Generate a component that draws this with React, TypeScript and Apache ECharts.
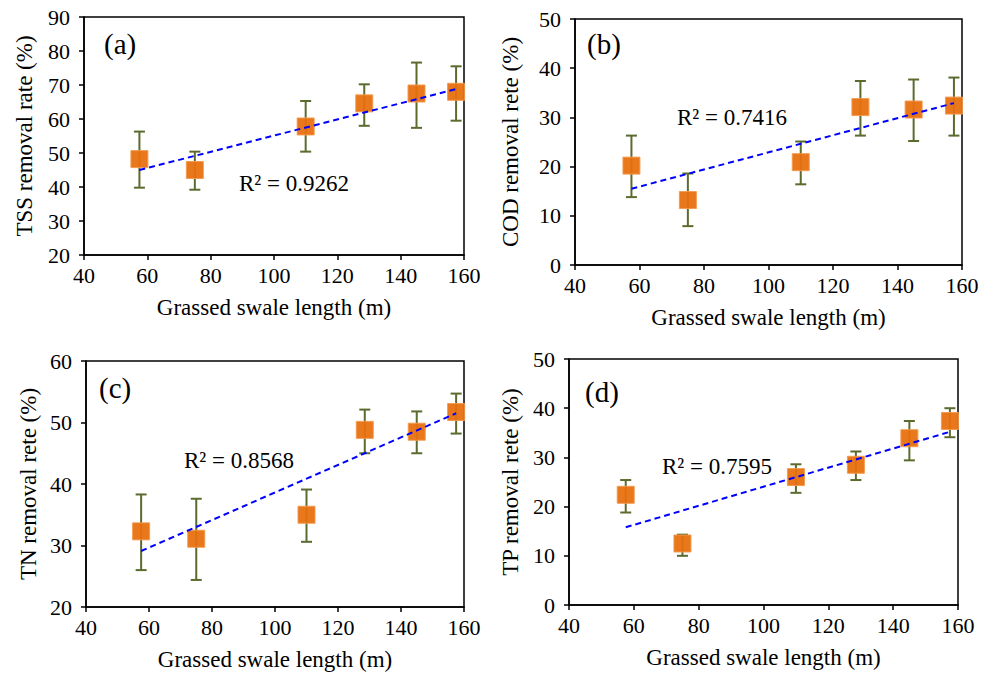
import React, { useEffect, useRef } from "react";
import * as echarts from "echarts";

// swale lengths (m)
const lengths = [57.5, 75, 110, 128.5, 145, 157.5];
const xTicks = [40, 60, 80, 100, 120, 140, 160];

// (a) TSS
const tss = [48.2, 45.0, 57.8, 64.6, 67.5, 68.0];
const tssLow = [39.8, 39.2, 50.4, 58.0, 57.4, 59.5];
const tssHigh = [56.3, 50.4, 65.3, 70.2, 76.6, 75.5];
const tssTrend = [45.0, 68.8];
// (b) COD
const cod = [20.2, 13.2, 20.9, 32.1, 31.6, 32.4];
const codLow = [13.8, 7.9, 16.4, 26.3, 25.2, 26.3];
const codHigh = [26.3, 18.6, 25.1, 37.4, 37.7, 38.1];
const codTrend = [15.5, 32.9];
// (c) TN
const tn = [32.3, 31.1, 35.0, 48.8, 48.5, 51.7];
const tnLow = [26.0, 24.4, 30.6, 45.0, 45.0, 48.2];
const tnHigh = [38.3, 37.6, 39.1, 52.1, 51.8, 54.7];
const tnTrend = [29.1, 51.5];
// (d) TP
const tp = [22.4, 12.5, 26.0, 28.5, 33.9, 37.4];
const tpLow = [18.8, 10.0, 22.8, 25.4, 29.4, 34.1];
const tpHigh = [25.4, 14.3, 28.6, 31.2, 37.4, 40.0];
const tpTrend = [15.8, 35.2];
const trendX = [57.5, 157.5];

const panelLabels = ["(a)", "(b)", "(c)", "(d)"];
const yNames = [
  "TSS removal rate (%)",
  "COD removal rete (%)",
  "TN removal rete (%)",
  "TP removal rete (%)",
];
const r2Labels = ["R² = 0.9262", "R² = 0.7416", "R² = 0.8568", "R² = 0.7595"];
const yRanges = [
  [20, 90],
  [0, 50],
  [20, 60],
  [0, 50],
];
const xName = "Grassed swale length (m)";

const FONT = "Liberation Serif";

export default function App() {
  const ref = useRef<HTMLDivElement>(null);
  useEffect(() => {
    if (!ref.current) return;
    const chart = echarts.init(ref.current, null, { renderer: "svg" });
    const grids = [
      { left: 84, top: 17, width: 380, height: 238 },
      { left: 575, top: 19, width: 387, height: 246 },
      { left: 86, top: 361, width: 378, height: 246 },
      { left: 569, top: 359, width: 389, height: 246 },
    ];
    const yNameGaps = [48, 53, 46, 47];
    const vals = [tss, cod, tn, tp];
    const lows = [tssLow, codLow, tnLow, tpLow];
    const highs = [tssHigh, codHigh, tnHigh, tpHigh];
    const trends = [tssTrend, codTrend, tnTrend, tpTrend];
    const labelPos = [
      [104, 44],
      [587, 44],
      [99, 388],
      [585, 392],
    ];
    const r2Pos = [
      [239, 183],
      [677, 117],
      [184, 460],
      [662, 466],
    ];

    const series: any[] = [];
    vals.forEach((v, i) => {
      series.push({
        type: "custom",
        xAxisIndex: i,
        yAxisIndex: i,
        data: lengths.map((x, k) => [x, lows[i][k], highs[i][k]]),
        encode: { x: 0, y: [1, 2] },
        renderItem: (params: any, api: any) => {
          const x = api.value(0);
          const top = api.coord([x, api.value(2)]);
          const bot = api.coord([x, api.value(1)]);
          const cap = 5.5;
          const st = { stroke: "#5b6b2e", lineWidth: 2 };
          return {
            type: "group",
            children: [
              { type: "line", shape: { x1: top[0], y1: top[1], x2: bot[0], y2: bot[1] }, style: st },
              { type: "line", shape: { x1: top[0] - cap, y1: top[1], x2: top[0] + cap, y2: top[1] }, style: st },
              { type: "line", shape: { x1: bot[0] - cap, y1: bot[1], x2: bot[0] + cap, y2: bot[1] }, style: st },
            ],
          };
        },
        z: 2,
      });
      series.push({
        type: "scatter",
        xAxisIndex: i,
        yAxisIndex: i,
        symbol: "rect",
        symbolSize: 17,
        itemStyle: { color: "#e8700f", borderColor: "#f29a4e", borderWidth: 1, opacity: 0.95 },
        data: lengths.map((x, k) => [x, v[k]]),
        z: 3,
      });
      series.push({
        type: "line",
        xAxisIndex: i,
        yAxisIndex: i,
        symbol: "none",
        lineStyle: { color: "#0000ff", width: 2, type: [6, 4] },
        data: trendX.map((x, k) => [x, trends[i][k]]),
        z: 4,
      });
    });

    const option: any = {
      animation: false,
      backgroundColor: "#fff",
      grid: grids.map((g) => ({ ...g, show: true, borderColor: "#000", borderWidth: 1.5, containLabel: false })),
      xAxis: grids.map((_, i) => ({
        type: "value",
        gridIndex: i,
        min: xTicks[0],
        max: xTicks[xTicks.length - 1],
        interval: 20,
        name: xName,
        nameLocation: "middle",
        nameGap: 41,
        nameTextStyle: { fontFamily: FONT, fontSize: 23, color: "#000" },
        axisLine: { show: true, lineStyle: { color: "#000", width: 1.5 } },
        axisTick: { show: true, length: 5, lineStyle: { color: "#000", width: 1.5 } },
        axisLabel: { fontFamily: FONT, fontSize: 22, color: "#000", margin: 9 },
        splitLine: { show: false },
      })),
      yAxis: grids.map((_, i) => ({
        type: "value",
        gridIndex: i,
        min: yRanges[i][0],
        max: yRanges[i][1],
        interval: 10,
        name: yNames[i],
        nameLocation: "middle",
        nameGap: yNameGaps[i],
        nameTextStyle: { fontFamily: FONT, fontSize: 23, color: "#000" },
        axisLine: { show: true, lineStyle: { color: "#000", width: 1.5 } },
        axisTick: { show: true, length: 5, lineStyle: { color: "#000", width: 1.5 } },
        axisLabel: { fontFamily: FONT, fontSize: 22, color: "#000", margin: 14 },
        splitLine: { show: false },
      })),
      graphic: [
        ...panelLabels.map((t, i) => ({
          type: "text",
          x: labelPos[i][0],
          y: labelPos[i][1],
          style: { text: t, fontFamily: FONT, fontSize: 29, fill: "#000", textAlign: "left", textVerticalAlign: "middle" },
          z: 10,
        })),
        ...r2Labels.map((t, i) => ({
          type: "text",
          x: r2Pos[i][0],
          y: r2Pos[i][1],
          style: { text: t, fontFamily: FONT, fontSize: 23, fill: "#000", textAlign: "left", textVerticalAlign: "middle" },
          z: 10,
        })),
      ],
      series,
    };
    chart.setOption(option);
    return () => chart.dispose();
  }, []);
  return (
    <div
      ref={ref}
      style={{ position: "fixed", left: 0, top: 0, width: 988, height: 676, background: "#fff" }}
    />
  );
}
